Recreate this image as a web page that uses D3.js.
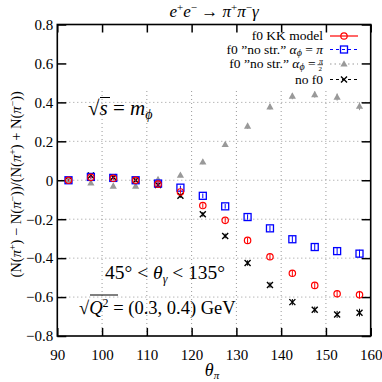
<!DOCTYPE html>
<html><head><meta charset="utf-8">
<script src="https://cdn.jsdelivr.net/npm/d3@7"></script>
<style>body{margin:0;background:#fff}svg{display:block}text{font-family:"Liberation Serif","DejaVu Serif",serif;fill:#000}</style>
</head><body>
<script>
const angles = [92.5, 97.5, 102.5, 107.5, 112.5, 117.5, 122.5, 127.5, 132.5, 137.5, 142.5, 147.5, 152.5, 157.5];
const kkModel = [0, 0.015, 0.01, 0, -0.02, -0.06, -0.13, -0.206, -0.309, -0.393, -0.478, -0.54, -0.583, -0.588];
const noStrPi = [0, 0.017, 0.012, 0, -0.017, -0.038, -0.08, -0.134, -0.189, -0.247, -0.303, -0.343, -0.364, -0.377];
const noStrHalfPi = [0, -0.014, -0.03, -0.03, 0.004, 0.026, 0.094, 0.184, 0.278, 0.377, 0.432, 0.44, 0.427, 0.38];
const noF0 = [0, 0.025, 0.015, 0, -0.025, -0.08, -0.175, -0.286, -0.425, -0.538, -0.626, -0.665, -0.689, -0.68];
const errs = [0.005, 0.008, 0.008, 0.008, 0.01, 0.01, 0.012, 0.012, 0.014, 0.014, 0.016, 0.016, 0.018, 0.02];
const xTicks = [90, 100, 110, 120, 130, 140, 150, 160];
const yTicks = [-0.8, -0.6, -0.4, -0.2, 0, 0.2, 0.4, 0.6, 0.8];

const W = 382, H = 382;
const L = 57.3, R = 370.7, T = 24.5, B = 336;
const FONT = "'Liberation Serif','DejaVu Serif',serif";
const svg = d3.select("body").append("svg").attr("width", W).attr("height", H).attr("font-family", FONT);
const x = d3.scaleLinear().domain([90, 160]).range([L, R]);
const y = d3.scaleLinear().domain([-0.8, 0.8]).range([B, T]);
const gridTop = 0.46;

// grid
const grid = svg.append("g").attr("stroke", "#999").attr("stroke-width", 1).attr("stroke-dasharray", "1,3");
xTicks.slice(1, -1).forEach(v => grid.append("line").attr("x1", x(v)).attr("x2", x(v)).attr("y1", y(-0.8)).attr("y2", y(gridTop)));
yTicks.filter(v => v > -0.8 && v < gridTop).forEach(v => grid.append("line").attr("x1", L).attr("x2", R).attr("y1", y(v)).attr("y2", y(v)));

// axes
const fmt = v => v === 0 ? "0" : d3.format(".1f")(v).replace("-", "\u2212");
const axB = svg.append("g").attr("transform", `translate(0,${B})`).call(d3.axisBottom(x).tickValues(xTicks).tickSize(-8).tickPadding(13).tickFormat(d3.format("d")));
const axT = svg.append("g").attr("transform", `translate(0,${T})`).call(d3.axisTop(x).tickValues(xTicks).tickSize(-8).tickFormat(""));
const axL = svg.append("g").attr("transform", `translate(${L},0)`).call(d3.axisLeft(y).tickValues(yTicks).tickSize(-9).tickPadding(4).tickFormat(fmt));
const axR = svg.append("g").attr("transform", `translate(${R},0)`).call(d3.axisRight(y).tickValues(yTicks).tickSize(-9).tickFormat(""));
[axB, axT, axL, axR].forEach(a => {
  a.attr("font-family", FONT).attr("font-size", 15);
  a.select(".domain").remove();
  a.selectAll(".tick line").attr("stroke", "#000").attr("stroke-width", 1.5);
  a.selectAll("text").attr("fill", "#000");
});
svg.append("rect").attr("x", L).attr("y", T).attr("width", R - L).attr("height", B - T).attr("fill", "none").attr("stroke", "#000").attr("stroke-width", 1.6);

// series
const series = [
  {vals: kkModel, color: "#ff0000", marker: "circle", dash: null},
  {vals: noStrPi, color: "#0000ff", marker: "square", dash: "3,3"},
  {vals: noStrHalfPi, color: "#999999", marker: "triangle", dash: "1.5,3"},
  {vals: noF0, color: "#000000", marker: "cross", dash: "3,3"}
];
function marker(g, type, color, cx, cy) {
  if (type === "circle") g.append("circle").attr("cx", cx).attr("cy", cy).attr("r", 3.2).attr("fill", "none").attr("stroke", color).attr("stroke-width", 1.2);
  else if (type === "square") g.append("rect").attr("x", cx - 3.5).attr("y", cy - 3.5).attr("width", 7).attr("height", 7).attr("fill", "none").attr("stroke", color).attr("stroke-width", 1.3);
  else if (type === "triangle") g.append("path").attr("d", `M${cx},${cy - 3.8}L${cx + 3.6},${cy + 2.6}L${cx - 3.6},${cy + 2.6}Z`).attr("fill", color);
  else if (type === "cross") g.append("path").attr("d", `M${cx - 3},${cy - 3}L${cx + 3},${cy + 3}M${cx - 3},${cy + 3}L${cx + 3},${cy - 3}`).attr("stroke", color).attr("stroke-width", 1.4);
}
series.slice().reverse().forEach(s => {
  const g = svg.append("g");
  s.vals.forEach((v, i) => {
    const cx = x(angles[i]), cy = y(v);
    g.append("line").attr("x1", cx).attr("x2", cx).attr("y1", y(v - errs[i])).attr("y2", y(v + errs[i])).attr("stroke", s.color).attr("stroke-width", 1);
    marker(g, s.marker, s.color, cx, cy);
  });
});

// legend
const legY = [40, 53.5, 68, 83.5];
const legX1 = 330, legX2 = 358, legTX = 323;
const lg = svg.append("g");
series.forEach((s, i) => {
  const ly = legY[i];
  const ln = lg.append("line").attr("x1", legX1).attr("x2", legX2).attr("y1", ly - 4).attr("y2", ly - 4).attr("stroke", s.color).attr("stroke-width", 1.2);
  if (s.dash) ln.attr("stroke-dasharray", s.dash);
  marker(lg, s.marker, s.color, (legX1 + legX2) / 2, ly - 4);
});
const fs = "13.5px";
lg.append("text").attr("x", legTX).attr("y", legY[0]).attr("text-anchor", "end").style("font-size", fs).text("f0 KK model");
const t2 = lg.append("text").attr("x", legTX).attr("y", legY[1]).attr("text-anchor", "end").style("font-size", fs);
t2.append("tspan").text("f0 \u201dno str.\u201d ");
t2.append("tspan").attr("font-style", "italic").text("\u03b1");
t2.append("tspan").attr("font-style", "italic").attr("font-size", "10px").attr("dy", 2).text("\u03d5");
t2.append("tspan").attr("dy", -2).text(" = ");
t2.append("tspan").attr("font-style", "italic").text("\u03c0");
const t3 = lg.append("text").attr("x", legTX).attr("y", legY[2]).attr("text-anchor", "end").style("font-size", fs);
t3.append("tspan").text("f0 \u201dno str.\u201d ");
t3.append("tspan").attr("font-style", "italic").text("\u03b1");
t3.append("tspan").attr("font-style", "italic").attr("font-size", "10px").attr("dy", 2).text("\u03d5");
t3.append("tspan").attr("dy", -2).text(" = ");
t3.append("tspan").attr("font-style", "italic").attr("font-size", "8px").attr("dy", -4).text("\u03c0");
t3.append("tspan").attr("font-size", "7px").attr("dx", -4.5).attr("dy", 7).text("2");
lg.append("line").attr("x1", legTX - 5.5).attr("x2", legTX).attr("y1", legY[2] - 3.3).attr("y2", legY[2] - 3.3).attr("stroke", "#000").attr("stroke-width", 0.7);
lg.append("text").attr("x", legTX).attr("y", legY[3]).attr("text-anchor", "end").style("font-size", fs).text("no f0");

// title
const tt = svg.append("text").attr("x", 214).attr("y", 17).attr("text-anchor", "middle").style("font-size", "17px");
tt.append("tspan").attr("font-style", "italic").text("e");
tt.append("tspan").attr("font-size", "11px").attr("dy", -6).text("+");
tt.append("tspan").attr("font-style", "italic").attr("dy", 6).text("e");
tt.append("tspan").attr("font-size", "11px").attr("dy", -6).text("\u2212");
tt.append("tspan").attr("dy", 6).text(" \u2192 ");
tt.append("tspan").attr("font-style", "italic").text("\u03c0");
tt.append("tspan").attr("font-size", "11px").attr("dy", -6).text("+");
tt.append("tspan").attr("font-style", "italic").attr("dy", 6).text("\u03c0");
tt.append("tspan").attr("font-size", "11px").attr("dy", -6).text("\u2212");
tt.append("tspan").attr("font-style", "italic").attr("dy", 6).text("\u03b3");

// x label
const xl = svg.append("text").attr("x", 212).attr("y", 376).attr("text-anchor", "middle").style("font-size", "18px");
xl.append("tspan").attr("font-style", "italic").text("\u03b8");
xl.append("tspan").attr("font-style", "italic").attr("font-size", "11px").attr("dy", 3).text("\u03c0");

// y label
const yl = svg.append("text").attr("transform", `translate(21,${(T + B) / 2 + 4}) rotate(-90)`).attr("text-anchor", "middle").style("font-size", "14.5px");
function piSign(sign) {
  yl.append("tspan").attr("font-style", "italic").text("\u03c0");
  yl.append("tspan").attr("font-size", "10px").attr("dy", -5).text(sign);
  yl.append("tspan").attr("dy", 5).text(")");
}
yl.append("tspan").text("(N(");
piSign("+");
yl.append("tspan").text(" \u2212 N(");
piSign("\u2212");
yl.append("tspan").text(")/(N(");
piSign("+");
yl.append("tspan").text(" + N(");
piSign("\u2212");
yl.append("tspan").text(")");

// annotations
const a1 = svg.append("text").attr("x", 88).attr("y", 115).style("font-size", "21px");
a1.append("tspan").text("\u221a");
a1.append("tspan").attr("font-style", "italic").text("s");
a1.append("tspan").text(" = ");
a1.append("tspan").attr("font-style", "italic").text("m");
a1.append("tspan").attr("font-style", "italic").attr("font-size", "14px").attr("dy", 4).text("\u03d5");
svg.append("line").attr("x1", 100).attr("x2", 110).attr("y1", 97.5).attr("y2", 97.5).attr("stroke", "#000").attr("stroke-width", 1);

const a2 = svg.append("text").attr("x", 105).attr("y", 279).style("font-size", "19.5px");
a2.append("tspan").text("45\u00b0 < ");
a2.append("tspan").attr("font-style", "italic").text("\u03b8");
a2.append("tspan").attr("font-style", "italic").attr("font-size", "12px").attr("dy", 4).text("\u03b3");
a2.append("tspan").attr("dy", -4).text(" < 135\u00b0");

const a3 = svg.append("text").attr("x", 79).attr("y", 314).style("font-size", "18.5px");
a3.append("tspan").text("\u221a");
a3.append("tspan").attr("font-style", "italic").text("Q");
a3.append("tspan").attr("font-size", "12px").attr("dy", -7).text("2");
a3.append("tspan").attr("dy", 7).text(" = (0.3, 0.4) GeV");
svg.append("line").attr("x1", 90).attr("x2", 118).attr("y1", 295).attr("y2", 295).attr("stroke", "#000").attr("stroke-width", 1);
</script>
</body></html>
